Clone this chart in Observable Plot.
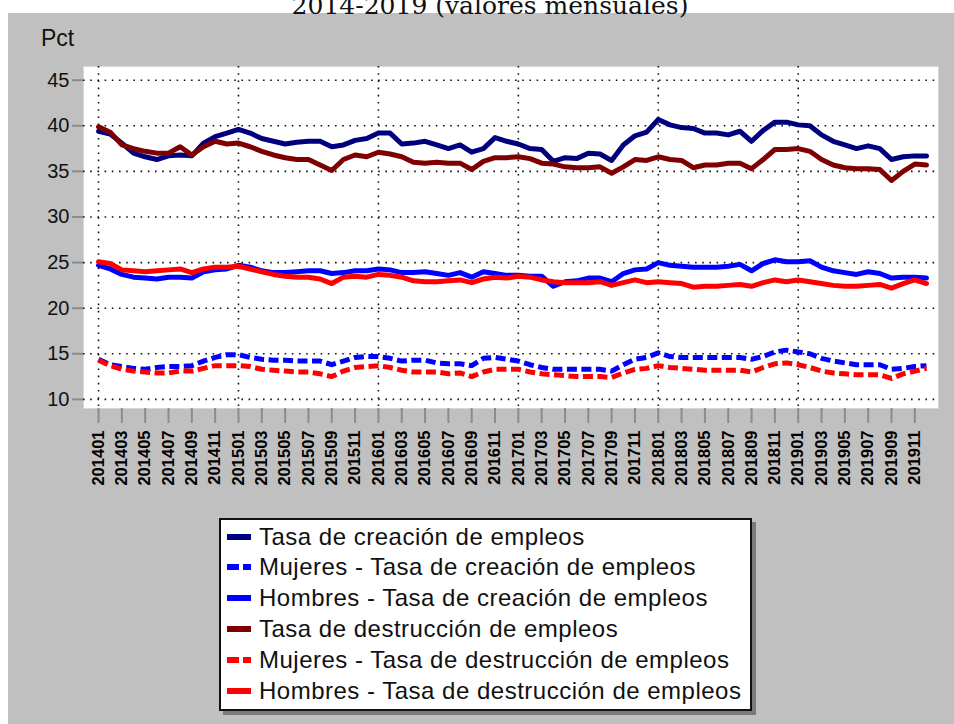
<!DOCTYPE html>
<html>
<head>
<meta charset="utf-8">
<script src="https://cdn.jsdelivr.net/npm/d3@7"></script>
<script src="https://cdn.jsdelivr.net/npm/@observablehq/plot@0.6"></script>
<style>
  html, body { margin: 0; padding: 0; background: #ffffff; }
  #page { position: relative; width: 954px; height: 724px; overflow: hidden; font-family: "Liberation Sans", Arial, sans-serif; }
  #panel { position: absolute; left: 8px; top: 13px; right: 0; bottom: 0; background: #c0c0c0; }
  #title { position: absolute; left: 0; width: 980px; top: -7px; text-align: center; font-family: "DejaVu Serif", "Liberation Serif", serif; font-size: 25px; line-height: 25px; color: #111; }
  #ylab { position: absolute; left: 41px; top: 25px; font-size: 23px; color: #111; }
  #chart { position: absolute; left: 0; top: 0; }
  #legend { position: absolute; left: 219px; top: 518px; width: 529px; height: 189px; background: #fff; border: 2px solid #111; box-shadow: 4px 4px 0 #7a7a7a; }
  .row { position: absolute; left: 0; height: 31px; display: flex; align-items: center; }
  .row svg { margin-left: 6px; margin-right: 8px; }
  .row span { font-size: 24px; color: #111; white-space: nowrap; letter-spacing: 0.5px; }
</style>
</head>
<body>
<div id="page">
  <div id="panel"></div>
  <div id="title"></div>
  <div id="ylab">Pct</div>
  <div id="chart"></div>
  <div id="legend"></div>
</div>
<script>
// ---- Data ----
const periods = [];
for (const yr of [2014, 2015, 2016, 2017, 2018, 2019]) {
  for (let m = 1; m <= 12; m++) periods.push(String(yr) + String(m).padStart(2, "0"));
}
const tickLabels = ["201401","201403","201405","201407","201409","201411",
  "201501","201503","201505","201507","201509","201511",
  "201601","201603","201605","201607","201609","201611",
  "201701","201703","201705","201707","201709","201711",
  "201801","201803","201805","201807","201809","201811",
  "201901","201903","201905","201907","201909","201911"];
const gridYears = ["201401","201501","201601","201701","201801","201901"];
const yTicks = [10, 15, 20, 25, 30, 35, 40, 45];

const seriesNames = [
  "Tasa de creación de empleos",
  "Mujeres - Tasa de creación de empleos",
  "Hombres - Tasa de creación de empleos",
  "Tasa de destrucción de empleos",
  "Mujeres - Tasa de destrucción de empleos",
  "Hombres - Tasa de destrucción de empleos"
];

const creacion = [39.4,39.1,38.1,37.0,36.6,36.3,36.7,36.8,36.7,38.1,38.8,39.2,
  39.6,39.2,38.6,38.3,38.0,38.2,38.3,38.3,37.7,37.9,38.4,38.6,
  39.2,39.2,38.0,38.1,38.3,37.9,37.5,37.9,37.1,37.5,38.7,38.3,
  38.0,37.5,37.4,36.1,36.5,36.4,37.0,36.9,36.2,37.9,38.9,39.3,
  40.7,40.1,39.8,39.7,39.2,39.2,39.0,39.4,38.3,39.5,40.4,40.4,
  40.1,40.0,39.0,38.3,37.9,37.5,37.8,37.5,36.3,36.6,36.7,36.7];
const mujeresCreacion = [14.4,13.8,13.6,13.4,13.3,13.5,13.6,13.6,13.7,14.2,14.6,14.9,
  14.9,14.6,14.4,14.3,14.3,14.2,14.2,14.2,13.8,14.2,14.6,14.7,
  14.7,14.5,14.2,14.3,14.3,14.0,13.9,13.9,13.7,14.5,14.6,14.4,
  14.2,13.8,13.5,13.3,13.3,13.3,13.3,13.3,13.1,13.8,14.4,14.6,
  15.1,14.7,14.6,14.6,14.6,14.6,14.6,14.6,14.4,14.7,15.2,15.4,
  15.2,15.0,14.5,14.2,14.0,13.8,13.8,13.8,13.3,13.4,13.6,13.7];
const hombresCreacion = [24.7,24.3,23.7,23.4,23.3,23.2,23.4,23.4,23.3,24.0,24.2,24.3,
  24.7,24.5,24.1,23.9,23.9,24.0,24.1,24.1,23.8,23.9,24.1,24.1,
  24.3,24.2,23.9,23.9,24.0,23.8,23.6,23.9,23.4,24.0,23.8,23.6,
  23.6,23.5,23.5,22.4,22.9,23.0,23.3,23.3,22.9,23.8,24.2,24.3,
  25.0,24.7,24.6,24.5,24.5,24.5,24.6,24.8,24.1,24.9,25.3,25.1,
  25.1,25.2,24.5,24.1,23.9,23.7,24.0,23.8,23.3,23.4,23.4,23.3];
const destruccion = [39.9,39.3,37.9,37.5,37.2,37.0,37.0,37.7,36.8,37.7,38.3,38.0,
  38.1,37.7,37.2,36.8,36.5,36.3,36.3,35.7,35.1,36.3,36.8,36.6,
  37.1,36.9,36.6,36.0,35.9,36.0,35.9,35.9,35.2,36.1,36.5,36.5,
  36.6,36.4,35.9,35.8,35.5,35.4,35.4,35.5,34.8,35.5,36.3,36.2,
  36.6,36.3,36.2,35.4,35.7,35.7,35.9,35.9,35.3,36.3,37.4,37.4,
  37.5,37.2,36.3,35.7,35.4,35.3,35.3,35.2,34.0,35.0,35.8,35.7];
const mujeresDestruccion = [14.3,13.7,13.3,13.1,13.0,12.9,12.9,13.1,13.1,13.4,13.7,13.7,
  13.7,13.6,13.3,13.2,13.1,13.0,13.0,12.8,12.5,13.1,13.5,13.6,
  13.7,13.5,13.2,13.0,13.0,13.0,12.8,12.9,12.5,13.0,13.3,13.3,
  13.3,13.0,12.8,12.7,12.6,12.5,12.5,12.5,12.4,12.9,13.3,13.4,
  13.7,13.5,13.4,13.3,13.2,13.2,13.2,13.2,13.0,13.5,13.9,14.0,
  13.8,13.5,13.1,12.9,12.8,12.7,12.7,12.7,12.3,12.8,13.1,13.4];
const hombresDestruccion = [25.1,24.9,24.2,24.1,24.0,24.1,24.2,24.3,23.9,24.3,24.5,24.5,
  24.6,24.3,24.0,23.7,23.5,23.4,23.4,23.2,22.7,23.4,23.5,23.4,
  23.7,23.6,23.4,23.0,22.9,22.9,23.0,23.1,22.8,23.2,23.4,23.3,
  23.5,23.4,23.1,22.9,22.8,22.8,22.8,22.9,22.5,22.8,23.1,22.8,
  22.9,22.8,22.7,22.3,22.4,22.4,22.5,22.6,22.4,22.8,23.1,22.9,
  23.1,22.9,22.7,22.5,22.4,22.4,22.5,22.6,22.2,22.7,23.1,22.7];

const seriesColors = ["#00007e", "#0000ff", "#0000ff", "#7e0000", "#ff0000", "#ff0000"];
const seriesDashed = [false, true, false, false, true, false];
const seriesValues = [creacion, mujeresCreacion, hombresCreacion, destruccion, mujeresDestruccion, hombresDestruccion];

// ---- Chart ----
document.getElementById("title").textContent = "2014-2019 (valores mensuales)";

const idx = d3.range(periods.length);
const lineMarks = seriesValues.map((vals, k) =>
  Plot.line(idx, {
    x: i => i, y: i => vals[i],
    stroke: seriesColors[k], strokeWidth: 5,
    strokeDasharray: seriesDashed[k] ? "10,4.5" : null,
    strokeLinejoin: "round", strokeLinecap: seriesDashed[k] ? "butt" : "round", curve: "linear"
  })
);

const chart = Plot.plot({
  width: 954, height: 500,
  marginLeft: 83, marginRight: 16, marginTop: 66, marginBottom: 92,
  style: { background: "transparent", fontFamily: "'Liberation Sans', Arial, sans-serif", color: "#111", overflow: "visible" },
  x: { type: "linear", domain: [-1.29, 72.03] },
  y: { domain: [9.0, 46.5] },
  marks: [
    Plot.frame({ fill: "white", stroke: "#d8d8d8" }),
    Plot.ruleY(yTicks, { stroke: "#111", strokeWidth: 1.6, strokeDasharray: "1.6,5.6" }),
    Plot.ruleX(gridYears.map(p => periods.indexOf(p)), { stroke: "#111", strokeWidth: 1.6, strokeDasharray: "1.6,5.6" }),
    ...lineMarks,
    Plot.axisY({ ticks: yTicks, tickSize: 11, tickPadding: 3, stroke: "#8c8c8c", strokeWidth: 2, fill: "#111", fontSize: 20, label: null }),
    Plot.axisX({ ticks: tickLabels.map(p => periods.indexOf(p)), tickFormat: i => periods[i], tickRotate: -90,
      tickSize: 15, tickPadding: 7, stroke: "#8c8c8c", strokeWidth: 2, fill: "#000", fontSize: 16.5, fontWeight: "bold", label: null })
  ]
});
document.getElementById("chart").appendChild(chart);

// ---- Legend ----
const legend = document.getElementById("legend");
seriesNames.forEach((name, k) => {
  const row = document.createElement("div");
  row.className = "row";
  row.style.top = (1 + k * 30.8) + "px";
  const dash = seriesDashed[k] ? 'stroke-dasharray="12,4"' : "";
  row.innerHTML = `<svg width="24" height="10"><line x1="0" y1="5" x2="24" y2="5" stroke="${seriesColors[k]}" stroke-width="6" ${dash}/></svg><span></span>`;
  row.querySelector("span").textContent = name;
  legend.appendChild(row);
});
</script>
</body>
</html>
